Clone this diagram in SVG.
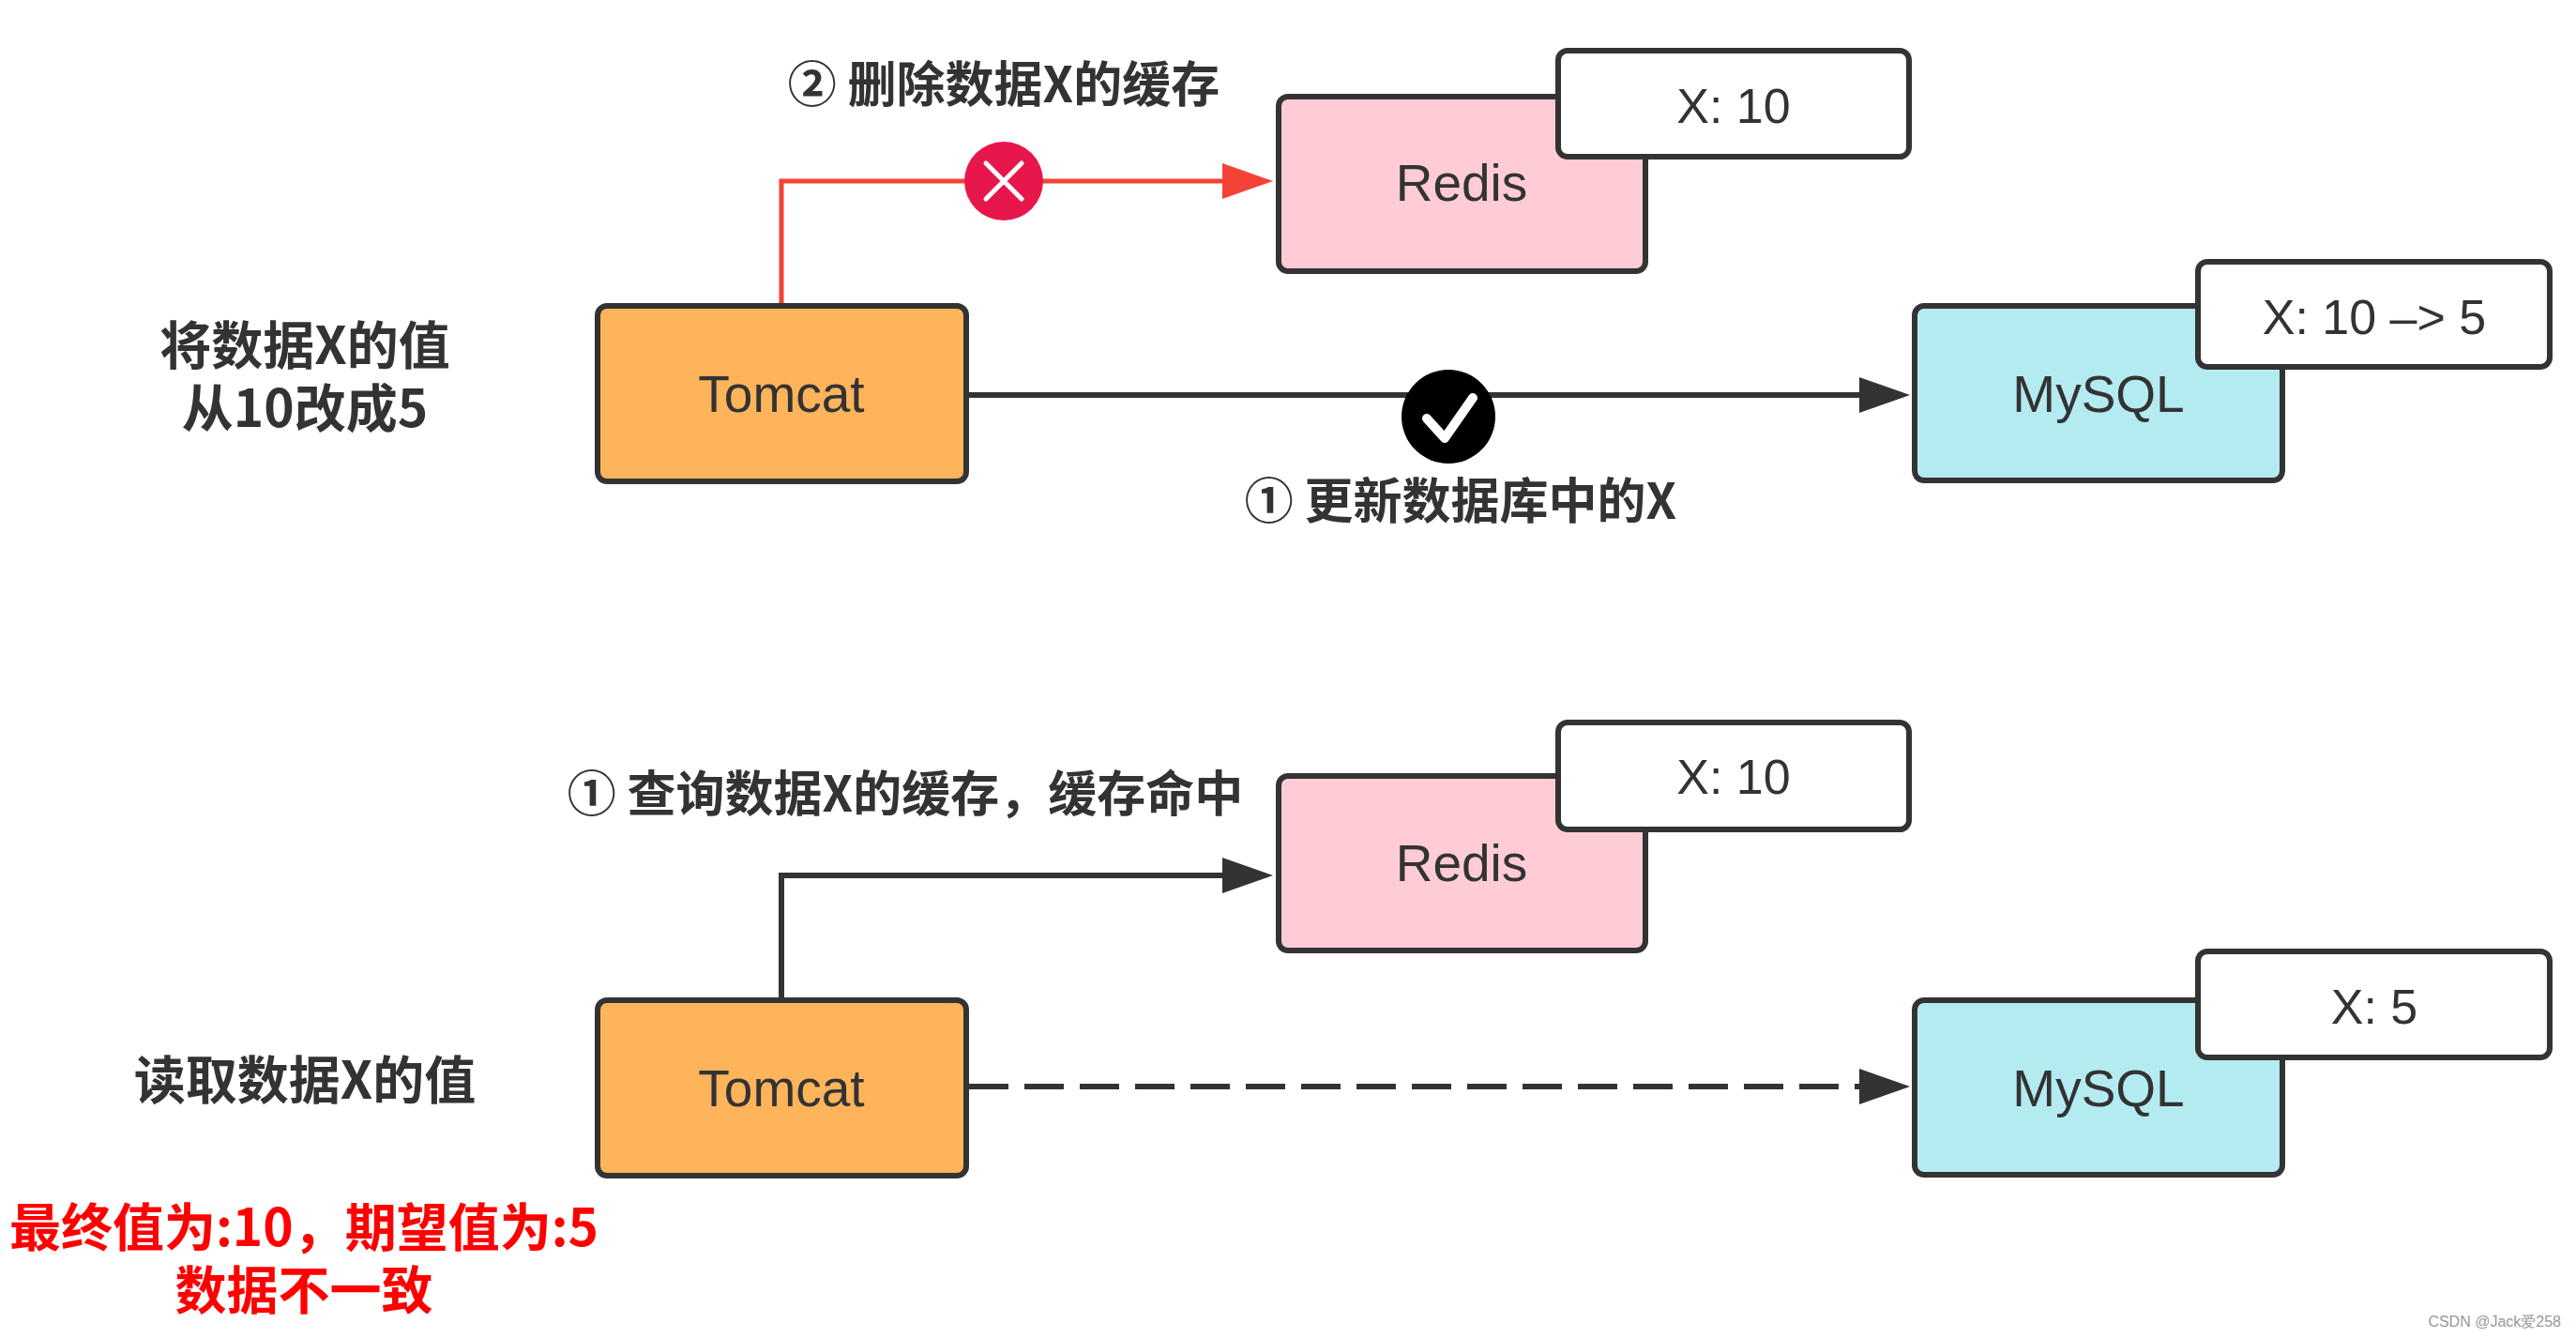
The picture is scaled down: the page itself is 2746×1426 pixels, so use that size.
<svg xmlns="http://www.w3.org/2000/svg" width="2746" height="1426" viewBox="0 0 2746 1426">
<defs>
<style>
.node{stroke:#333;stroke-width:6}
.tomcat{fill:#FDB45A}
.redis{fill:#FFCCD5}
.mysql{fill:#B3EBF1}
.val{fill:#fff}
.nt{font-family:"Liberation Sans",Arial,sans-serif;font-size:55px;fill:#333;text-anchor:middle}
.vt{font-family:"Liberation Sans",Arial,sans-serif;font-size:52px;fill:#333;text-anchor:middle}
.lbl{font-family:"Noto Sans CJK SC",sans-serif;font-size:52px;font-weight:bold;fill:#333;text-anchor:middle}
.big{font-size:55px}
.red{fill:#FF0000}
.conn{fill:none;stroke:#333;stroke-width:6}
.connred{fill:none;stroke:#F44336;stroke-width:5}
</style>
<marker id="ah" markerUnits="userSpaceOnUse" markerWidth="56" markerHeight="40" viewBox="0 0 56 40" refX="47" refY="20" orient="auto">
<path d="M1,1 L55,20 L1,39 Z" fill="#333"/>
</marker>
<marker id="ahr" markerUnits="userSpaceOnUse" markerWidth="56" markerHeight="40" viewBox="0 0 56 40" refX="47" refY="20" orient="auto">
<path d="M1,1 L55,20 L1,39 Z" fill="#F44336"/>
</marker>
</defs>
<rect width="2746" height="1426" fill="#fff"/>

<g id="connectors">
<path class="connred" d="M833,323 V193 H1349" marker-end="url(#ahr)"/>
<path class="conn" d="M1033,421 H2028" marker-end="url(#ah)"/>
<path class="conn" d="M833,1063 V933 H1349" marker-end="url(#ah)"/>
<path class="conn" d="M1033,1158 H2028" stroke-width="7" stroke-dasharray="42 17" marker-end="url(#ah)"/>
</g>

<g id="fail-mark">
<circle cx="1070" cy="193" r="42" fill="#E8174B"/>
<path d="M1051,174 L1089,212 M1089,174 L1051,212" stroke="#fff" stroke-width="5" stroke-linecap="round"/>
</g>
<g id="ok-mark">
<circle cx="1544" cy="444" r="50" fill="#000"/>
<path d="M1521,446 L1540,467 L1570,424" fill="none" stroke="#fff" stroke-width="10" stroke-linecap="round" stroke-linejoin="round"/>
</g>

<g id="tomcat-top">
<rect class="node tomcat" x="637" y="326" width="393" height="187" rx="10"/>
<text class="nt" x="833" y="439">Tomcat</text>
</g>
<g id="redis-top">
<rect class="node redis" x="1363" y="103" width="391" height="186" rx="10"/>
<text class="nt" x="1558" y="214">Redis</text>
</g>
<g id="redis-top-value">
<rect class="node val" x="1661" y="54" width="374" height="113" rx="10"/>
<text class="vt" x="1848" y="131">X: 10</text>
</g>
<g id="mysql-top">
<rect class="node mysql" x="2041" y="326" width="392" height="186" rx="10"/>
<text class="nt" x="2237" y="439">MySQL</text>
</g>
<g id="mysql-top-value">
<rect class="node val" x="2343" y="279" width="375" height="112" rx="10"/>
<text class="vt" x="2531" y="356">X: 10 –&gt; 5</text>
</g>

<g id="tomcat-bottom">
<rect class="node tomcat" x="637" y="1066" width="393" height="187" rx="10"/>
<text class="nt" x="833" y="1179">Tomcat</text>
</g>
<g id="redis-bottom">
<rect class="node redis" x="1363" y="827" width="391" height="186" rx="10"/>
<text class="nt" x="1558" y="939">Redis</text>
</g>
<g id="redis-bottom-value">
<rect class="node val" x="1661" y="770" width="374" height="114" rx="10"/>
<text class="vt" x="1848" y="846">X: 10</text>
</g>
<g id="mysql-bottom">
<rect class="node mysql" x="2041" y="1066" width="392" height="186" rx="10"/>
<text class="nt" x="2237" y="1179">MySQL</text>
</g>
<g id="mysql-bottom-value">
<rect class="node val" x="2343" y="1014" width="375" height="113" rx="10"/>
<text class="vt" x="2531" y="1091">X: 5</text>
</g>

<g id="labels">
<text class="lbl" x="1070" y="109">② 删除数据X的缓存</text>
<text class="lbl" x="1557" y="553">① 更新数据库中的X</text>
<text class="lbl big" x="325" y="388">将数据X的值<tspan x="325" dy="67">从10改成5</tspan></text>
<text class="lbl" x="965" y="865">① 查询数据X的缓存，缓存命中</text>
<text class="lbl big" x="325" y="1171">读取数据X的值</text>
<text class="lbl big red" x="324" y="1328">最终值为:10，期望值为:5<tspan x="324" dy="67">数据不一致</tspan></text>
<text x="2730" y="1414" font-family="Liberation Sans,Arial,sans-serif" font-size="16" fill="#999" text-anchor="end">CSDN @Jack爱258</text>
</g>
</svg>
